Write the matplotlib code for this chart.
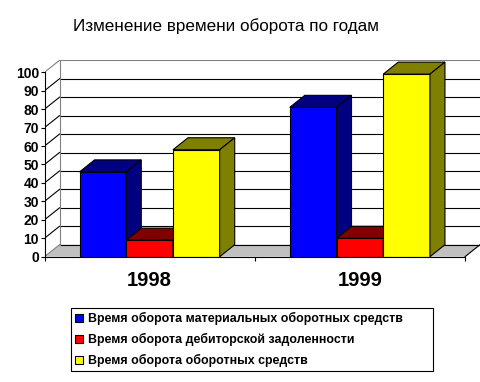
import matplotlib
matplotlib.use('Agg')
import matplotlib.pyplot as plt
from matplotlib.patches import Polygon, Patch

plt.rcParams['font.family'] = ['Liberation Sans', 'DejaVu Sans']

title = 'Изменение времени оборота по годам'
years = ['1998', '1999']
series = ['Время оборота материальных оборотных средств',
          'Время оборота дебиторской задоленности',
          'Время оборота оборотных средств']
values = [[46, 81],   # материальных оборотных средств
          [9, 10],    # дебиторской задолженности
          [58, 99]]   # оборотных средств
front_colors = ['#0000ff', '#ff0000', '#ffff00']
dark_colors = ['#000080', '#800000', '#808000']
yticks = list(range(0, 101, 10))

# 3d look: depth offset in data units
dx = 0.0714
dy = 6.5
bw = 1.0 / 4.5

fig = plt.figure(figsize=(4.81, 3.82), dpi=100)
ax = fig.add_axes([44.5 / 481, 125.3 / 382, 435.5 / 481, 196.4 / 382])
ax.set_xlim(-0.5, 1.5 + dx)
ax.set_ylim(0, 100 + dy)
ax.patch.set_visible(False)

# floor
ax.add_patch(Polygon([(-0.5, 0), (1.5, 0), (1.5 + dx, dy), (-0.5 + dx, dy)],
                     closed=True, facecolor='#c0c0c0', edgecolor='none', zorder=1))
ax.plot([1.5, 1.5 + dx], [0, dy], color='black', lw=0.8, zorder=2)

# walls and gridlines
for v in yticks:
    c = '#808080' if v == 100 else 'black'
    ax.plot([-0.5 + dx, 1.5 + dx], [v + dy, v + dy], color=c, lw=0.8, zorder=2)
    c = '#808080' if v in (0, 100) else 'black'
    ax.plot([-0.5, -0.5 + dx], [v, v + dy], color=c, lw=0.8, zorder=2)
ax.plot([-0.5 + dx, -0.5 + dx], [dy, 100 + dy], color='#808080', lw=0.8, zorder=2)

# bars
for gi in range(len(years)):
    start = gi - 1.5 * bw
    for si in range(len(series)):
        v = values[si][gi]
        x0 = start + si * bw
        x1 = x0 + bw
        kw = dict(closed=True, edgecolor='black', lw=0.8, zorder=3)
        ax.add_patch(Polygon([(x0, 0), (x1, 0), (x1, v), (x0, v)],
                             facecolor=front_colors[si], **kw))
        ax.add_patch(Polygon([(x0, v), (x1, v), (x1 + dx, v + dy), (x0 + dx, v + dy)],
                             facecolor=dark_colors[si], **kw))
        ax.add_patch(Polygon([(x1, 0), (x1 + dx, dy), (x1 + dx, v + dy), (x1, v)],
                             facecolor=dark_colors[si], **kw))

# axes
for s in ['top', 'right']:
    ax.spines[s].set_visible(False)
ax.spines['left'].set_bounds(0, 100)
ax.spines['bottom'].set_bounds(-0.5, 1.5)
ax.spines['left'].set_linewidth(0.8)
ax.spines['bottom'].set_linewidth(0.8)
ax.spines['left'].set_zorder(4)
ax.spines['bottom'].set_zorder(4)
ax.set_yticks(yticks)
ax.set_yticklabels([str(t) for t in yticks], fontsize=10, fontweight='bold')
ax.tick_params(axis='y', direction='out', length=3, width=0.8, pad=1)
ax.set_xticks([-0.5, 0.5, 1.5])
ax.set_xticklabels(['', '', ''])
ax.tick_params(axis='x', which='major', direction='out', length=3, width=0.8)
ax.set_xticks([0, 1], minor=True)
ax.set_xticklabels(years, minor=True, fontsize=14.5, fontweight='bold')
ax.tick_params(axis='x', which='minor', length=0, pad=10)

fig.text(73 / 481, 1 - 18 / 382, title, fontsize=12.3, ha='left', va='top')

handles = [Patch(facecolor=c, edgecolor='black', lw=0.8) for c in front_colors]
leg = fig.legend(handles, series, loc='center', mode='expand',
                 bbox_to_anchor=(71 / 481, 11 / 382, 362 / 481, 63 / 382),
                 prop={'size': 8.9, 'weight': 'bold'}, frameon=True, fancybox=False,
                 edgecolor='black', framealpha=1, handlelength=0.6, handleheight=0.6,
                 handletextpad=0.4, borderpad=0.35, labelspacing=0.65, borderaxespad=0)
leg.get_frame().set_linewidth(0.8)

fig.savefig('out.png', dpi=100)
